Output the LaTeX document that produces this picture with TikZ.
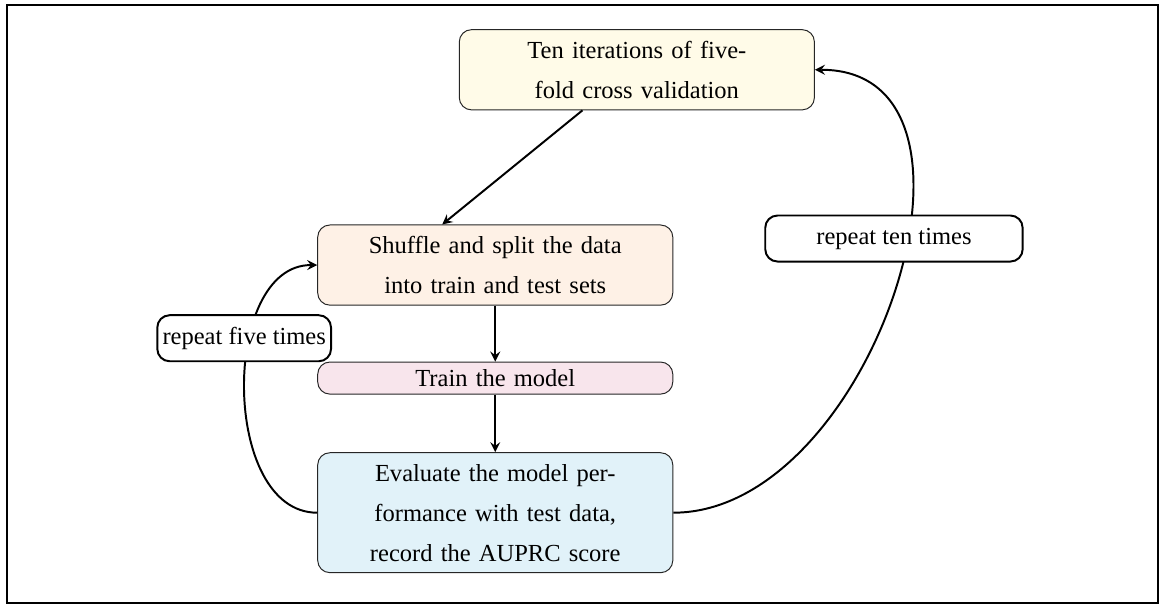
\documentclass[tikz,border=0pt]{standalone}
\usepackage{fontspec}
\setmainfont{Liberation Serif}
\usepackage{tikz}

\definecolor{ylwfill}{HTML}{FFFBE8}
\definecolor{orgfill}{HTML}{FEF1E6}
\definecolor{pnkfill}{HTML}{F8E5EC}
\definecolor{blufill}{HTML}{E1F2F9}

\begin{document}
\begin{tikzpicture}[>=stealth,
		box_style/.style={rectangle,rounded corners=5pt,draw=black!85,align=center,
			text width=4.88cm,inner sep=3pt,font=\fontsize{10}{16.3}\selectfont},
		label_style/.style={rectangle,rounded corners=5pt,draw=black,thick,fill=white,
			anchor=center,minimum height=0.66cm,inner sep=2pt},
		edge_style/.style={draw=black,thick,->}]

		\useasboundingbox (0,0) rectangle (16.63,-8.674);
		\draw[line width=0.6pt] (0.10,-0.072) rectangle (16.60,-8.645);

		\node[box_style,fill=ylwfill,minimum height=1.15cm] (cv) at (9.13,-1.00) {Ten iterations of five-\\fold cross validation};
		\node[box_style,fill=orgfill,minimum height=1.15cm] (split) at (7.10,-3.80) {Shuffle and split the data\\into train and test sets};
		\node[box_style,fill=pnkfill,minimum height=0.46cm] (train) at (7.10,-5.42) {Train the model};
		\node[box_style,fill=blufill,minimum height=1.72cm] (eval) at (7.10,-7.35) {Evaluate the model per-\\formance with test data,\\record the AUPRC score};

		\draw[edge_style] ([xshift=-0.78cm]cv.south) -- ([xshift=-0.76cm]split.north);
		\draw[edge_style] (split) -- (train);
		\draw[edge_style] (train) -- (eval);
		\draw[edge_style] (eval.west) to[out=180,in=180]
			node[label_style,pos=0.64,xshift=-0.09cm,minimum width=2.49cm] (five) {repeat five times} (split.west);
		\draw[edge_style] (eval.east) to[out=0,in=0,looseness=1.1]
			node[label_style,pos=0.58,xshift=-0.19cm,minimum width=3.69cm] (ten) {repeat ten times} (cv.east);

\end{tikzpicture}
\end{document}
